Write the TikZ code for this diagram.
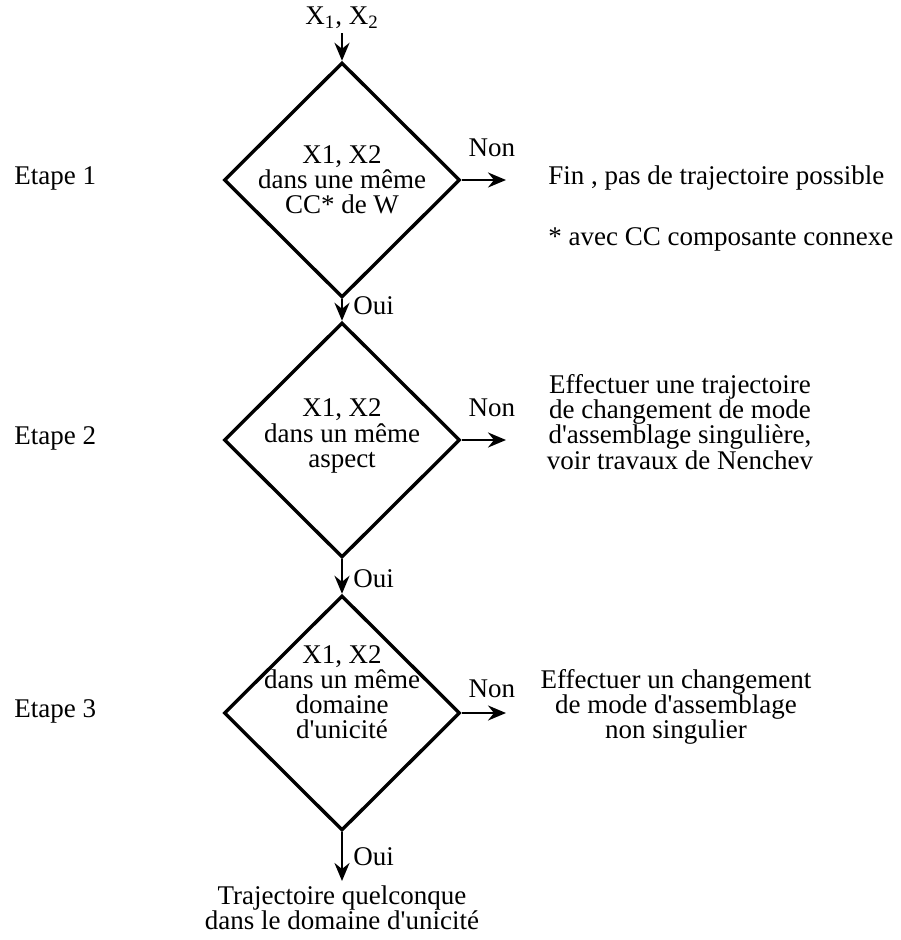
\documentclass[tikz,border=0pt]{standalone}
\usepackage{fontspec}
\setmainfont{Liberation Serif}[Ligatures=TeXOff]
\usepackage{tikz}
\usetikzlibrary{arrows.meta,positioning,shapes.geometric}

\begin{document}
\begin{tikzpicture}[x=0.5pt, y=-0.5pt,
  every node/.style={font=\fontsize{13.5pt}{12.6pt}\selectfont, inner sep=2pt},
  test/.style={draw, diamond, line width=1.7pt, minimum width=118pt, minimum height=117.5pt, inner sep=0pt},
  txt/.style={align=center},
  arr/.style={-{Stealth[length=9pt, width=7.5pt, inset=3pt]}, line width=1.3pt}]
\useasboundingbox (0,0) rectangle (900,940);
% inputs
\node (in) at (342,18) {X\textsubscript{1}, X\textsubscript{2}};
% step labels
\node[anchor=west] (e1) at (10,178) {Etape 1};
\node[anchor=west] (e2) at (10,438) {Etape 2};
\node[anchor=west] (e3) at (10,711) {Etape 3};
% tests
\node[test] (t1) at (342,180) {};
\node[test] (t2) at (342,440) {};
\node[test] (t3) at (342,713) {};
\node[txt] at (342,180) {X1, X2\\dans une même\\CC* de W};
\node[txt] at (342,436) {X1, X2\\dans un même\\aspect};
\node[txt] at (342,692) {X1, X2\\dans un même\\domaine\\d'unicité};
% outcomes
\coordinate (n1) at (506,180);
\coordinate (n2) at (506,440);
\coordinate (n3) at (506,713);
\node[anchor=west] (fin) at (544,178) {Fin , pas de trajectoire possible};
\node[anchor=west] (cc) at (544,239) {* avec CC composante connexe};
\node[txt] (sing) at (680,422) {Effectuer une trajectoire\\de changement de mode\\d'assemblage singulière,\\voir travaux de Nenchev};
\node[txt] (nsing) at (676,707) {Effectuer un changement\\de mode d'assemblage\\non singulier};
\node[txt, anchor=north] (res) at (342,881) {Trajectoire quelconque\\dans le domaine d'unicité};
% arrows
\draw[arr] (in) -- (t1);
\draw[arr] (t1) -- node[right, xshift=3pt, yshift=2pt]{Oui} (t2);
\draw[arr] (t2) -- node[right, xshift=3pt, yshift=-1pt]{Oui} (t3);
\draw[arr] (t3) -- node[right, xshift=3pt]{Oui} (res);
\draw[arr] (t1.east) -- node[above=9pt, xshift=4pt]{Non} (n1);
\draw[arr] (t2.east) -- node[above=9pt, xshift=4pt]{Non} (n2);
\draw[arr] (t3.east) -- node[above=5pt, xshift=4pt]{Non} (n3);
\end{tikzpicture}
\end{document}
